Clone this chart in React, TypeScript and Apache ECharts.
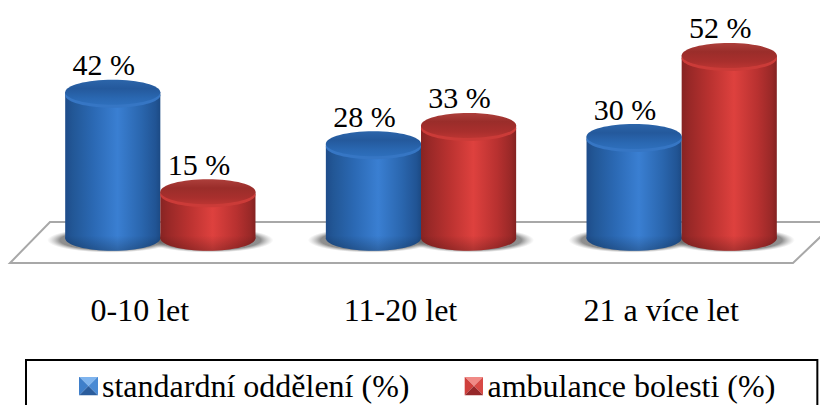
import React, { useEffect, useRef } from "react";
import * as echarts from "echarts";

const categories = ["0-10 let", "11-20 let", "21 a více let"];
const standardValues = [42, 28, 30];
const ambulanceValues = [15, 33, 52];
const seriesNames = ["standardní oddělení (%)", "ambulance bolesti (%)"];

const FONT = "'Times New Roman', 'Liberation Serif', serif";
// Cylinders stand on the floor plate slightly above the axis zero.
const BASE_VALUE = 2.4;
const BAR_RATIO = 0.365;
const RY = 12.5;
// The value labels sit a little left of each cylinder's axis.
const LABEL_SHIFT = -9;

const linear = (horizontal: boolean, stops: [number, string][]) =>
  new echarts.graphic.LinearGradient(0, 0, horizontal ? 1 : 0, horizontal ? 0 : 1,
    stops.map(([offset, color]) => ({ offset, color })));

const blue = {
  body: [[0, "#1e4c8a"], [0.08, "#225796"], [0.3, "#2b69b4"], [0.55, "#3a7fd2"], [0.8, "#2a66ae"], [0.95, "#215494"], [1, "#1c4a84"]] as [number, string][],
  top: [[0, "#2c65aa"], [0.35, "#24599c"], [0.75, "#2a68b2"], [1, "#2e6fbc"]] as [number, string][],
  rim: "#3676c4",
  icon: ["#7fb4ee", "#3f7fca", "#4a8ad4", "#2a5c9c"],
};
const red = {
  body: [[0, "#872423"], [0.08, "#982827"], [0.3, "#ba3230"], [0.55, "#de413e"], [0.8, "#b83130"], [0.95, "#982827"], [1, "#832221"]] as [number, string][],
  top: [[0, "#ad3f3b"], [0.35, "#9a2d2a"], [0.75, "#a92f2d"], [1, "#bb3532"]] as [number, string][],
  rim: "#cb3b38",
  icon: ["#f08a86", "#cf3f3c", "#d84a46", "#96282a"],
};

// Bevelled legend key: four triangles meeting in the middle.
const bevelIcon = ([top, left, right, bottom]: string[]) =>
  "image://data:image/svg+xml," +
  encodeURIComponent(
    `<svg xmlns="http://www.w3.org/2000/svg" width="19" height="19">` +
      `<polygon points="0,0 19,0 9.5,9.5" fill="${top}"/>` +
      `<polygon points="0,0 9.5,9.5 0,19" fill="${left}"/>` +
      `<polygon points="19,0 9.5,9.5 19,19" fill="${right}"/>` +
      `<polygon points="0,19 9.5,9.5 19,19" fill="${bottom}"/></svg>`
  );

// One cylinder: floor shadow, body, rim highlight, top face and value label.
const cylinder = (palette: typeof blue, side: -1 | 1) => (params: any, api: any) => {
  const cat = api.value(0);
  const value = api.value(1);
  const [cx0, yTop] = api.coord([cat, value]);
  const [, yBase] = api.coord([cat, BASE_VALUE]);
  const w = api.size([1, 0])[0] * BAR_RATIO;
  const x = cx0 + (side * w) / 2 - w / 2;
  const cx = x + w / 2;
  const shadow = new echarts.graphic.RadialGradient(0.5, 0.5, 0.5, [
    { offset: 0, color: "rgba(85,85,85,0.75)" },
    { offset: 0.8, color: "rgba(95,95,95,0.7)" },
    { offset: 1, color: "rgba(160,160,160,0)" },
  ]);
  return {
    type: "group",
    children: [
      {
        type: "ellipse",
        z2: 0,
        shape: { cx: cx + side * 2, cy: yBase + 2, rx: w / 2 + 16, ry: RY },
        style: { fill: shadow },
      },
      {
        type: "rect",
        z2: 10,
        shape: { x, y: yTop, width: w, height: yBase - yTop },
        style: { fill: linear(true, palette.body) },
      },
      {
        type: "ellipse",
        z2: 10,
        shape: { cx, cy: yBase, rx: w / 2, ry: RY },
        style: { fill: linear(true, palette.body) },
      },
      {
        type: "ellipse",
        z2: 11,
        shape: { cx, cy: yBase, rx: w / 2, ry: RY },
        style: {
          fill: linear(false, [[0.4, "rgba(0,0,0,0)"], [1, "rgba(0,0,0,0.22)"]]),
        },
      },
      {
        type: "ellipse",
        z2: 12,
        shape: { cx, cy: yTop + 3, rx: w / 2, ry: RY },
        style: { fill: palette.rim },
      },
      {
        type: "ellipse",
        z2: 13,
        shape: { cx, cy: yTop, rx: w / 2, ry: RY },
        style: { fill: linear(false, palette.top) },
      },
      {
        type: "text",
        z2: 20,
        style: {
          x: cx + LABEL_SHIFT,
          y: yTop - RY,
          text: `${value} %`,
          align: "center",
          verticalAlign: "bottom",
          fontFamily: FONT,
          fontSize: 30,
          fill: "#000",
        },
      },
    ],
  };
};

export default function App() {
  const ref = useRef<HTMLDivElement>(null);
  useEffect(() => {
    const chart = echarts.init(ref.current!, undefined, { renderer: "svg" });
    chart.setOption({
      animation: false,
      backgroundColor: "#fff",
      grid: { left: 30, right: 8, top: 26, bottom: 158 },
      graphic: [
        {
          type: "polygon",
          z: 0,
          shape: { points: [[50, 222], [836, 222], [793, 263], [10, 263]] },
          style: { fill: "#fff", stroke: "#a8a8a8", lineWidth: 2 },
        },
      ],
      xAxis: {
        type: "category",
        data: categories,
        axisLine: { show: false },
        axisTick: { show: false },
        axisLabel: {
          margin: 47,
          padding: [0, 41, 0, 0],
          fontFamily: FONT,
          fontSize: 32,
          color: "#000",
        },
      },
      yAxis: { type: "value", min: 0, max: 60, show: false },
      legend: {
        data: [
          { name: seriesNames[0], icon: bevelIcon(blue.icon) },
          { name: seriesNames[1], icon: bevelIcon(red.icon) },
        ],
        left: 26,
        top: 360,
        orient: "horizontal",
        padding: [10, 42, 14, 53],
        itemGap: 55,
        itemWidth: 19,
        itemHeight: 19,
        borderColor: "#000",
        borderWidth: 2,
        textStyle: { fontFamily: FONT, fontSize: 32, color: "#000", padding: [0, 0, 0, -1] },
      },
      series: [
        {
          type: "custom",
          name: seriesNames[0],
          z: 3,
          clip: false,
          encode: { x: 0, y: 1 },
          data: standardValues.map((v, i) => [i, v]),
          renderItem: cylinder(blue, -1),
        },
        {
          type: "custom",
          name: seriesNames[1],
          z: 3,
          clip: false,
          encode: { x: 0, y: 1 },
          data: ambulanceValues.map((v, i) => [i, v]),
          renderItem: cylinder(red, 1),
        },
      ],
    });
    return () => chart.dispose();
  }, []);
  return (
    <div
      ref={ref}
      style={{ position: "absolute", left: 0, top: 0, width: 820, height: 405 }}
    />
  );
}
